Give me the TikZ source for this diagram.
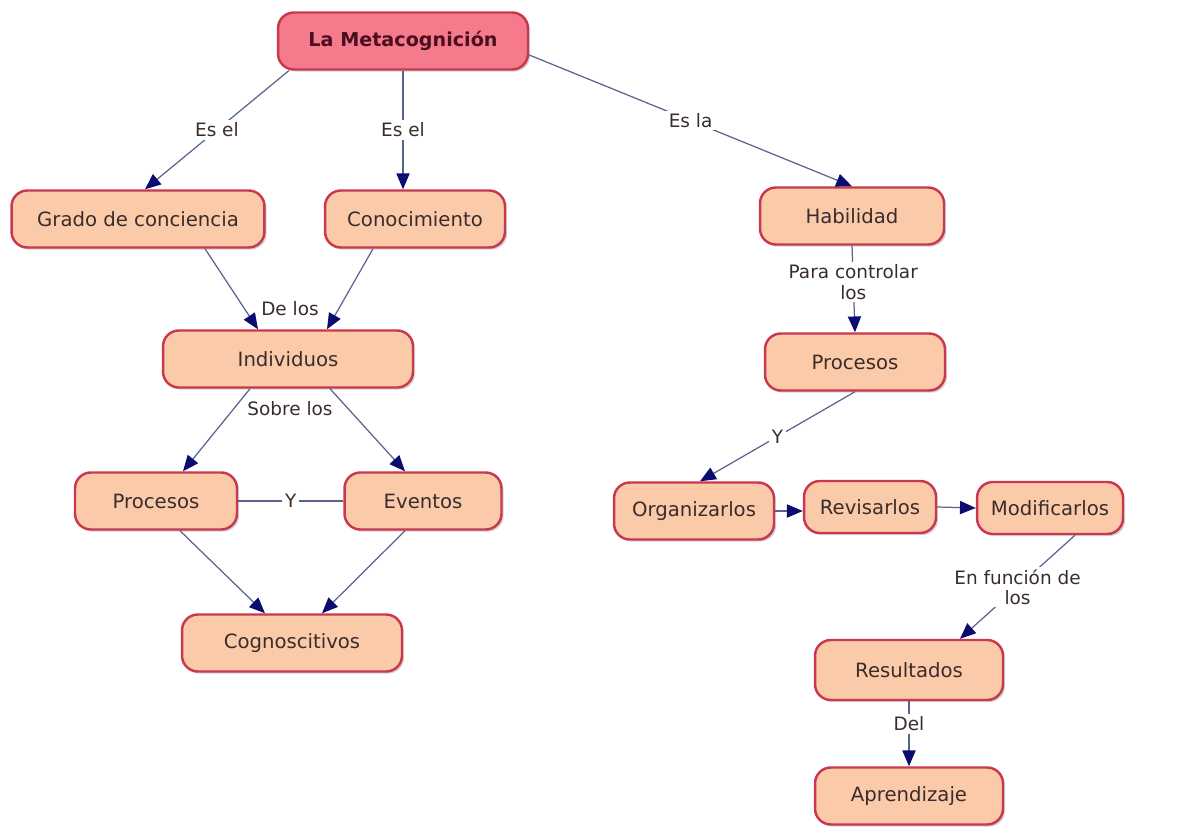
\documentclass[tikz,border=0pt]{standalone}
\usepackage{fontspec}
\setmainfont{DejaVu Sans}
\usetikzlibrary{arrows.meta,calc,shadows}
\definecolor{peach}{HTML}{FBCBA9}
\definecolor{rosa}{HTML}{F47A8C}
\definecolor{borde}{HTML}{C9384E}
\definecolor{linea}{HTML}{5A6290}
\definecolor{punta}{HTML}{0C0C70}
\definecolor{texto}{HTML}{3A2C2C}
\definecolor{titulo}{HTML}{4A0E1E}
\begin{document}
\begin{tikzpicture}[x=0.02cm,y=-0.02cm,
  concepto/.style={draw=borde,line width=1.4pt,fill=peach,rounded corners=9pt,
    minimum height=1.14cm,text=texto,font=\fontsize{11.2}{13}\selectfont,
    drop shadow={shadow xshift=1.2pt,shadow yshift=-1.2pt,fill=black!35}},
  enlace/.style={draw=linea,line width=0.7pt,-{Triangle[length=9pt,width=7.5pt,color=punta]}},
  lbl/.style={fill=white,inner sep=1.5pt,text=texto,align=center,
    font=\fontsize{10.5}{11.5}\selectfont}]
  \useasboundingbox (0,0) rectangle (1189,827);
  \node[concepto,fill=rosa,minimum width=5cm,font=\fontsize{10.9}{12}\selectfont\bfseries,text=titulo] (meta) at (403,41) {La Metacognición};
  \node[concepto,minimum width=5.06cm] (grado) at (138,219) {Grado de conciencia};
  \node[concepto,minimum width=3.6cm] (conoc) at (415,219) {Conocimiento};
  \node[concepto,minimum width=3.68cm] (habil) at (852,216) {Habilidad};
  \node[concepto,minimum width=5cm] (indiv) at (288,359) {Individuos};
  \node[concepto,minimum width=3.6cm] (procR) at (855,362) {Procesos};
  \node[concepto,minimum width=3.24cm] (procL) at (156,501) {Procesos};
  \node[concepto,minimum width=3.14cm] (event) at (423,501) {Eventos};
  \node[concepto,minimum width=4.4cm] (cogn) at (292,643) {Cognoscitivos};
  \node[concepto,minimum width=3.2cm] (orga) at (694,511) {Organizarlos};
  \node[concepto,minimum width=2.64cm,minimum height=1.04cm] (revis) at (870,507) {Revisarlos};
  \node[concepto,minimum width=2.92cm,minimum height=1.04cm] (modif) at (1050,508) {Modificarlos};
  \node[concepto,minimum width=3.76cm,minimum height=1.2cm] (result) at (909,670) {Resultados};
  \node[concepto,minimum width=3.76cm] (apren) at (909,796) {Aprendizaje};
  % labels
  \node[lbl] (delos) at (290,309) {De los};
  \node[lbl] (sobre) at (290,409) {Sobre los};
  % connectors
  \draw[enlace] ($(meta.south west)+(12,0)$) -- node[lbl] {Es el} ($(grado.north)+(7,0)$);
  \draw[enlace] (meta.south) -- node[lbl] {Es el} (meta.south |- conoc.north);
  \draw[enlace] ($(meta.east)+(0,14)$) -- node[lbl] {Es la} (habil.north);
  \draw[enlace] (habil.south) -- node[lbl,pos=0.42] {Para controlar\\los} (procR.north);
  \draw[enlace] ($(grado.south)+(67,0)$) -- ($(indiv.north)+(-30,0)$);
  \draw[enlace] ($(conoc.south)+(-42,0)$) -- ($(indiv.north)+(39,0)$);
  \draw[enlace] ($(indiv.south)+(-38,0)$) -- ($(procL.north)+(27,0)$);
  \draw[enlace] ($(indiv.south)+(42,0)$) -- ($(event.north)+(-18,0)$);
  \draw[draw=linea,line width=0.7pt] (procL.east) -- node[lbl] {Y} (event.west);
  \draw[enlace] ($(procL.south)+(24,0)$) -- ($(cogn.north)+(-27,0)$);
  \draw[enlace] ($(event.south)+(-18,0)$) -- ($(cogn.north)+(30,0)$);
  \draw[enlace] (procR.south) -- node[lbl] {Y} ($(orga.north)+(6,0)$);
  \draw[enlace] (orga.east) -- (orga.east -| revis.west);
  \draw[enlace] (revis.east) -- (modif.west);
  \draw[enlace] ($(modif.south)+(25,0)$) -- node[lbl] {En función de\\los} ($(result.north)+(51,0)$);
  \draw[enlace] (result.south) -- node[lbl,pos=0.35] {Del} (apren.north);
\end{tikzpicture}
\end{document}
